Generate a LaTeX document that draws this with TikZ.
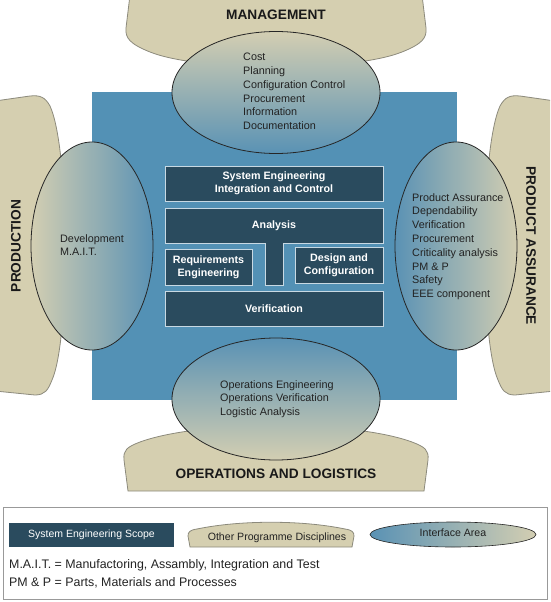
\documentclass[tikz,border=0pt]{standalone}
\usepackage{fontspec}
\setmainfont{Liberation Sans}
\usetikzlibrary{shapes.geometric}

\definecolor{tanfill}{HTML}{D5CFB0}
\definecolor{tanline}{HTML}{8C8A7C}
\definecolor{scopeblue}{HTML}{5391B5}
\definecolor{boxdark}{HTML}{2A4B5E}
\definecolor{boxline}{HTML}{C8D9E3}
\definecolor{shadeblue}{HTML}{5A92B4}
\definecolor{shadetan}{HTML}{D3CEB2}
\definecolor{txtgrey}{HTML}{222222}

\tikzset{
	discipline/.style={fill=tanfill, draw=tanline, line width=0.8pt},
	sebox/.style={fill=boxdark, draw=boxline, line width=0.9pt},
	setext/.style={text=white, font=\bfseries\fontsize{10.7}{13}\selectfont, align=center},
	area/.style={ellipse, draw=black!85, line width=0.8pt, inner sep=0pt},
	arealist/.style={anchor=north west, inner sep=0pt, align=left, text=txtgrey, font=\fontsize{10.8}{13.8}\selectfont},
	discname/.style={font=\bfseries\fontsize{13.7}{16}\selectfont, text=black!90},
	keytext/.style={inner sep=0pt, text=txtgrey, font=\fontsize{10.6}{13}\selectfont},
}

\begin{document}
\begin{tikzpicture}[x=1pt, y=-1pt]
			\useasboundingbox (0,0) rectangle (550,602);
			\clip (0,0) rectangle (550,602);
			%other programme disciplines
			\draw[discipline] (130,-5) -- (126,28) .. controls (125,38) and (130,44) .. (150,52) .. controls (200,72) and (352,72) .. (402,52) .. controls (422,44) and (427,38) .. (426,28) -- (422,-5) -- cycle;
			\draw[discipline] (128,491) -- (124,460) .. controls (123,450) and (127,447) .. (140,442) .. controls (200,420) and (352,420) .. (412,442) .. controls (425,447) and (429,450) .. (428,460) -- (424,491) -- cycle;
			\draw[discipline] (-5,101) -- (30,96) .. controls (40,95) and (45,97) .. (50,106) .. controls (70,150) and (70,340) .. (52,380) .. controls (48,390) and (45,395) .. (35,395) -- (-5,391) -- cycle;
			\draw[discipline] (555,101) -- (520,96) .. controls (510,95) and (505,97) .. (500,106) .. controls (480,150) and (480,340) .. (498,380) .. controls (502,390) and (505,395) .. (515,395) -- (555,391) -- cycle;
			
			%system engineering scope
			\fill[scopeblue] (92,92) rectangle (457,400);
			
			%interface areas
			\node[area, minimum width=208pt, minimum height=122pt, top color=shadetan, bottom color=shadeblue] (mgmtarea) at (276,92.5) {};
			\node[area, minimum width=122pt, minimum height=208pt, left color=shadetan, right color=shadeblue] (prodarea) at (92,246) {};
			\node[area, minimum width=122pt, minimum height=208pt, left color=shadeblue, right color=shadetan] (paarea) at (456,246) {};
			\node[area, minimum width=208pt, minimum height=122pt, top color=shadeblue, bottom color=shadetan] (opsarea) at (276,399) {};
			
			\node[arealist] (mgmtlist) at (243,53) {Cost\\Planning\\Configuration Control\\Procurement\\Information\\Documentation};
			\node[arealist] (prodlist) at (60,234) {Development\\M.A.I.T.};
			\node[arealist] (palist) at (412,193) {Product Assurance\\Dependability\\Verification\\Procurement\\Criticality analysis\\PM \& P\\Safety\\EEE component};
			\node[arealist] (opslist) at (220,380) {Operations Engineering\\Operations Verification\\Logistic Analysis};
			
			%system engineering boxes
			\node[sebox, setext, minimum width=218pt, minimum height=35pt] (seic) at (274,183.5) {System Engineering\\Integration and Control};
			\draw[sebox] (165,208) -- (383,208) -- (383,243) -- (283,243) -- (283,285) -- (265,285) -- (265,243) -- (165,243) -- cycle;
			\node[setext] (analysis) at (274,225.5) {Analysis};
			\node[sebox, setext, minimum width=87pt, minimum height=36pt] (reqeng) at (208.5,267) {Requirements\\Engineering};
			\node[sebox, setext, minimum width=88pt, minimum height=36pt] (designcfg) at (339,265) {Design and\\Configuration};
			\node[sebox, setext, minimum width=218pt, minimum height=35pt] (verif) at (274,308.5) {Verification};
			
			%discipline names
			\node[discname] (mgmt) at (276,15) {MANAGEMENT};
			\node[discname, rotate=90] (prod) at (16,246) {PRODUCTION};
			\node[discname, rotate=-90] (pa) at (531,246) {PRODUCT ASSURANCE};
			\node[discname] (ops) at (276,474) {OPERATIONS AND LOGISTICS};
			
			%legend
			\draw[black!40, line width=0.9pt] (3,507) rectangle (547,599);
			\node[fill=boxdark, minimum width=165pt, minimum height=24pt, text=white, font=\fontsize{10.5}{13}\selectfont] (scopekey) at (91.5,535) {System Engineering Scope};
			\draw[discipline] (190,547) -- (188,536) .. controls (188,532) and (190,530) .. (197,529) .. controls (240,520) and (302,520) .. (345,529) .. controls (352,530) and (354,532) .. (354,536) -- (352,547) -- cycle;
			\node[keytext] (otherkey) at (277,538) {Other Programme Disciplines};
			\node[area, line width=0.6pt, minimum width=166pt, minimum height=25pt, left color=shadeblue, right color=shadetan] (ifkey) at (453,534.5) {};
			\node[keytext] (iftext) at (453,533) {Interface Area};
			\node[keytext, anchor=west, font=\fontsize{12.4}{14}\selectfont] (maitkey) at (9,565) {M.A.I.T. = Manufactoring, Assambly, Integration and Test};
			\node[keytext, anchor=west, font=\fontsize{12.4}{14}\selectfont] (pmpkey) at (9,583) {PM \& P = Parts, Materials and Processes};
		\end{tikzpicture}
\end{document}
